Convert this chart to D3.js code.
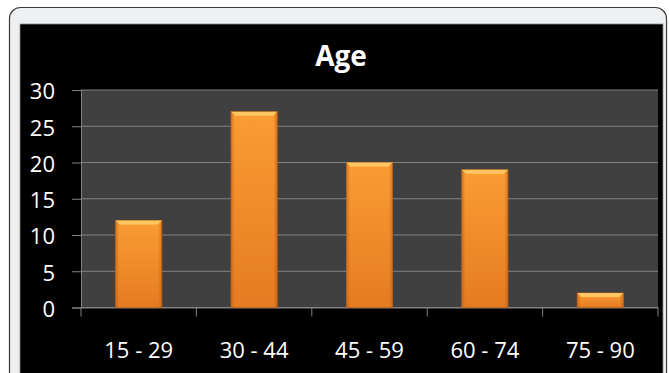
<!DOCTYPE html>
<html>
<head>
<meta charset="utf-8">
<script src="https://cdn.jsdelivr.net/npm/d3@7"></script>
<style>
  body { margin: 0; background: #ffffff; }
  svg { display: block; }
  text { font-family: "Open Sans", "Noto Sans", sans-serif; fill: #ffffff; }
</style>
</head>
<body>
<div id="chart"></div>
<script>
// data
var categories = ["15 - 29", "30 - 44", "45 - 59", "60 - 74", "75 - 90"];
var counts = [12, 27, 20, 19, 2];
var yTicks = [0, 5, 10, 15, 20, 25, 30];
var title = "Age";

var W = 669, H = 373;
var plot = {left: 81, right: 658, top: 90, bottom: 307.5};

var svg = d3.select("#chart").append("svg")
    .attr("width", W)
    .attr("height", H);

var defs = svg.append("defs");

// body of the bars: orange, darker towards the bottom
var grad = defs.append("linearGradient")
    .attr("id", "barFill")
    .attr("x1", 0).attr("y1", 0).attr("x2", 0).attr("y2", 1);
grad.append("stop").attr("offset", "0%").attr("stop-color", "#fb9c33");
grad.append("stop").attr("offset", "100%").attr("stop-color", "#e57b22");

// darker side edges
var side = defs.append("linearGradient")
    .attr("id", "barSide")
    .attr("x1", 0).attr("y1", 0).attr("x2", 1).attr("y2", 0);
side.append("stop").attr("offset", "0%").attr("stop-color", "#b85a10").attr("stop-opacity", 0.55);
side.append("stop").attr("offset", "8%").attr("stop-color", "#b85a10").attr("stop-opacity", 0);
side.append("stop").attr("offset", "92%").attr("stop-color", "#b85a10").attr("stop-opacity", 0);
side.append("stop").attr("offset", "100%").attr("stop-color", "#b85a10").attr("stop-opacity", 0.55);

// outer frame
svg.append("rect")
    .attr("x", 9.5).attr("y", 7.5)
    .attr("width", 657).attr("height", 380)
    .attr("rx", 11).attr("ry", 11)
    .attr("fill", "#eff0f2")
    .attr("stroke", "#3a3a3a")
    .attr("stroke-width", 1.2);

// black panel
svg.append("rect")
    .attr("x", 20).attr("y", 24)
    .attr("width", 643).attr("height", 360)
    .attr("fill", "#000000")
    .attr("stroke", "#8a8a8a")
    .attr("stroke-width", 0.8);

// title
svg.append("text")
    .attr("x", 341)
    .attr("y", 66)
    .attr("text-anchor", "middle")
    .style("font-size", "28px")
    .style("font-weight", "bold")
    .text(title);

var x = d3.scaleBand()
    .domain(categories)
    .range([plot.left, plot.right])
    .padding(0);

var y = d3.scaleLinear()
    .domain([0, 30])
    .range([plot.bottom, plot.top]);

// plot background
svg.append("rect")
    .attr("x", plot.left).attr("y", plot.top)
    .attr("width", plot.right - plot.left)
    .attr("height", plot.bottom - plot.top)
    .attr("fill", "#404040");

// gridlines
svg.append("g")
    .selectAll("line")
    .data(yTicks)
    .enter()
    .append("line")
    .attr("x1", plot.left).attr("x2", plot.right)
    .attr("y1", function (d) { return y(d); })
    .attr("y2", function (d) { return y(d); })
    .attr("stroke", "#828282")
    .attr("stroke-width", 1);

// y axis
var yAxis = svg.append("g")
    .attr("transform", "translate(" + plot.left + ",0)")
    .call(d3.axisLeft(y).tickValues(yTicks).tickSize(9).tickPadding(17));
yAxis.select(".domain").attr("stroke", "#828282");
yAxis.selectAll(".tick line").attr("stroke", "#828282");
yAxis.selectAll(".tick text")
    .attr("fill", "#ffffff")
    .style("font-size", "22px")
    .attr("dy", "0.4em");

// x axis
var xAxis = svg.append("g")
    .attr("transform", "translate(0," + plot.bottom + ")")
    .call(d3.axisBottom(x).tickSize(0).tickPadding(35));
xAxis.select(".domain").attr("stroke", "#828282");
xAxis.selectAll(".tick text")
    .attr("fill", "#ffffff")
    .style("font-size", "22px");

// tick marks between the categories
var edges = categories.map(function (c) { return x(c); }).concat([plot.right]);
xAxis.selectAll("line.sep")
    .data(edges)
    .enter()
    .append("line")
    .attr("class", "sep")
    .attr("x1", function (d) { return d; })
    .attr("x2", function (d) { return d; })
    .attr("y1", 0).attr("y2", 9)
    .attr("stroke", "#828282");

// bars
var barW = x.bandwidth() * 0.4;
var bars = svg.append("g")
    .selectAll("g.bar")
    .data(counts)
    .enter()
    .append("g")
    .attr("class", "bar");

function bx(d, i) { return x(categories[i]) + (x.bandwidth() - barW) / 2; }

bars.append("rect")
    .attr("x", bx)
    .attr("y", function (d) { return y(d); })
    .attr("width", barW)
    .attr("height", function (d) { return y(0) - y(d); })
    .attr("fill", "url(#barFill)")
    .attr("stroke", "#c0631a")
    .attr("stroke-width", 0.8);

bars.append("rect")
    .attr("x", bx)
    .attr("y", function (d) { return y(d); })
    .attr("width", barW)
    .attr("height", function (d) { return y(0) - y(d); })
    .attr("fill", "url(#barSide)");

// light bevel on the top of each bar
bars.append("path")
    .attr("d", function (d, i) {
      var x0 = bx(d, i), y0 = y(d);
      return "M" + x0 + "," + y0 + "h" + barW + "l-4,4h" + (-(barW - 8)) + "z";
    })
    .attr("fill", "#ffcf6a")
    .attr("opacity", 0.85);
</script>
</body>
</html>
